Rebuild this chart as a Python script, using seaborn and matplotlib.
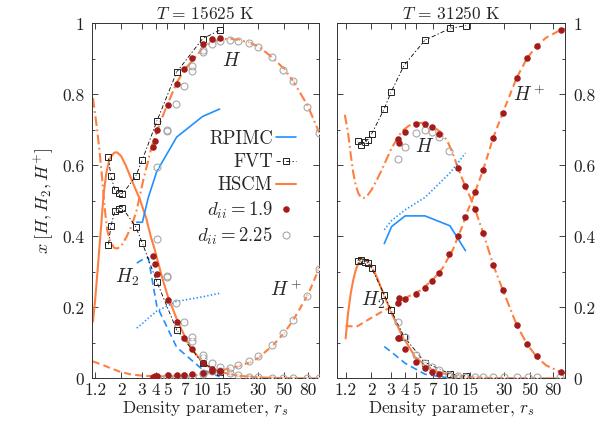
import numpy as np
import matplotlib
matplotlib.use('Agg')
import matplotlib.pyplot as plt
import seaborn as sns
from matplotlib.lines import Line2D
from matplotlib.ticker import FixedLocator, NullLocator, MultipleLocator

sns.set_style('ticks')
plt.rcParams['font.family'] = ['cmr10', 'DejaVu Serif']
plt.rcParams['mathtext.fontset'] = 'cm'
plt.rcParams['axes.unicode_minus'] = False
plt.rcParams['axes.formatter.use_mathtext'] = True
plt.rcParams['lines.scale_dashes'] = False

BLUE = '#2090ff'
ORANGE = '#ff7f40'
RED = '#a31c1c'
GRAY = '#a8a8a8'

nan = np.nan

# ---------------- T = 15625 K ----------------
fvt_l_x = [1.56, 1.64, 1.78, 1.92, 2.06, 2.67, 3.05, 4.05, 6.0, 10.0, 14.0]
fvt_l_H = [0.623, 0.569, 0.530, 0.522, 0.520, 0.569, 0.616, 0.724, 0.863, 0.957, 0.981]
fvt_l_H2 = [0.377, 0.430, 0.473, 0.478, 0.480, 0.428, 0.381, 0.273, 0.137, 0.043, 0.019]

hscm_l_x2 = [1.15, 1.2, 1.25, 1.3, 1.36, 1.42, 1.5, 1.6, 1.75, 1.85, 2.0, 2.2, 2.5,
             2.9, 3.3, 3.6, 3.9, 4.5, 5.0, 6.0, 7.0, 8.0, 10, 12, 14, 20, 30, 50, 100]
hscm_l_H2 = [0.16, 0.22, 0.29, 0.36, 0.44, 0.52, 0.58, 0.62, 0.636, 0.637, 0.627, 0.60, 0.555,
             0.505, 0.45, 0.40, 0.362, 0.285, 0.235, 0.168, 0.12, 0.085, 0.045, 0.028, 0.019,
             0.008, 0.003, 0.001, 0.0]
hscm_l_x1 = [1.15, 1.2, 1.25, 1.3, 1.37, 1.45, 1.52, 1.62, 1.75, 1.85, 2.0, 2.24, 2.5, 2.73,
             3.11, 3.4, 3.67, 4.32, 5.0, 6.0, 7.0, 8.33, 10, 11.6, 14, 17, 21, 25, 30, 40,
             50, 60, 80, 100]
hscm_l_H = [0.79, 0.745, 0.70, 0.65, 0.575, 0.48, 0.42, 0.385, 0.368, 0.366, 0.372, 0.40,
            0.435, 0.475, 0.56, 0.61, 0.654, 0.72, 0.772, 0.833, 0.87, 0.898, 0.93, 0.946,
            0.955, 0.957, 0.953, 0.946, 0.936, 0.903, 0.872, 0.837, 0.767, 0.692]
hscm_l_xp = [1.15, 1.4, 1.6, 2.0, 2.4, 3.0, 4, 6, 8, 10, 12, 14, 17, 20, 25, 30, 40, 50,
             60, 80, 100]
hscm_l_Hp = [0.048, 0.038, 0.030, 0.018, 0.012, 0.008, 0.006, 0.006, 0.008, 0.011, 0.016,
             0.022, 0.028, 0.034, 0.045, 0.058, 0.093, 0.128, 0.165, 0.236, 0.311]

rp_l_x = [2.73, 3.05, 3.43, 4.05, 6.0, 10.0, 14.0]
rp_l_H = [0.44, 0.44, 0.51, 0.583, 0.68, 0.738, 0.759]
rp_l_H2 = [0.325, 0.335, 0.34, 0.205, 0.088, 0.025, 0.005]
rp_l_Hp = [0.142, 0.155, 0.17, 0.19, 0.217, 0.23, 0.24]

red_l_x = [3.78, 3.92, 4.05, 5.1, 6.08, 6.98, 8.07, 10.1, 12.0, 14.1]
red_l_H = [0.651, 0.668, 0.699, 0.771, 0.83, 0.872, 0.903, 0.941, 0.957, 0.96]
red_l_H2 = [0.344, 0.323, 0.294, 0.221, 0.158, 0.115, 0.082, 0.045, 0.028, 0.02]
red_l_Hp = [0.005, 0.006, 0.008, 0.009, 0.01, 0.011, 0.012, 0.016, 0.02, 0.02]

gray_l_x = [4.05, 4.99, 5.0, 5.97, 7.0, 8.07, 8.1, 10.1, 10.15, 12.0, 14.1, 17.2, 20.2,
            24.9, 30, 39.6, 49.1, 59.8, 78.9, 99.8]
gray_l_H = [0.597, 0.696, 0.701, 0.774, 0.825, 0.867, 0.881, 0.919, 0.926, 0.943, 0.95,
            0.953, 0.952, 0.944, 0.933, 0.905, 0.87, 0.837, 0.765, 0.692]
gray_l_H2 = [0.393, 0.289, 0.285, 0.212, 0.16, 0.118, 0.107, 0.066, 0.058, 0.043, 0.033,
             0.016, 0.01, 0.005, 0.003, 0.002, 0.002, 0.002, 0.002, 0.002]
gray_l_Hp = [0.003, 0.004, 0.004, 0.005, 0.006, 0.007, 0.008, 0.014, 0.015, 0.02, 0.022,
             0.029, 0.038, 0.05, 0.064, 0.094, 0.127, 0.165, 0.233, 0.308]

# ---------------- T = 31250 K ----------------
fvt_r_x = [1.52, 1.63, 1.77, 1.87, 2.02, 2.61, 2.99, 3.9, 5.97, 9.93, 13.7]
fvt_r_H = [0.668, 0.659, 0.665, 0.673, 0.689, 0.760, 0.806, 0.882, 0.953, 0.986, 0.994]
fvt_r_H2 = [0.332, 0.335, 0.329, 0.325, 0.311, 0.236, 0.193, 0.118, 0.045, 0.013, 0.007]

hscm_r_x1 = [1.17, 1.25, 1.32, 1.39, 1.46, 1.54, 1.62, 1.71, 1.85, 2.02, 2.25, 2.48, 3.03,
             3.72, 4.3, 4.88, 5.97, 7.31, 8.5, 9.6, 10.6, 11.7, 13.0, 13.9, 15, 16.5, 19.5,
             23.9, 29, 38.5, 47.7, 57.8, 70, 93, 103]
hscm_r_H = [0.743, 0.692, 0.63, 0.579, 0.545, 0.522, 0.51, 0.508, 0.515, 0.532, 0.56, 0.588,
            0.649, 0.696, 0.712, 0.72, 0.72, 0.706, 0.69, 0.663, 0.63, 0.593, 0.555, 0.532,
            0.51, 0.477, 0.41, 0.32, 0.25, 0.151, 0.096, 0.061, 0.037, 0.019, 0.015]
hscm_r_x2 = [1.19, 1.25, 1.32, 1.39, 1.46, 1.54, 1.62, 1.71, 1.85, 2.02, 2.25, 2.48, 3.03,
             3.72, 4.88, 5.97, 7.7, 10.4, 15, 25, 103]
hscm_r_H2 = [0.113, 0.184, 0.24, 0.278, 0.305, 0.325, 0.334, 0.337, 0.33, 0.315, 0.285, 0.25,
             0.184, 0.123, 0.061, 0.038, 0.019, 0.008, 0.003, 0.001, 0.0]
hscm_r_xp = [1.19, 1.49, 1.87, 2.48, 3.3, 4.26, 5.58, 7.31, 8.5, 9.6, 10.6, 11.7, 13.0, 13.5,
             15, 16.5, 19.5, 23.9, 29, 38.5, 47.7, 57.8, 70, 93, 103]
hscm_r_Hp = [0.148, 0.146, 0.165, 0.188, 0.207, 0.231, 0.25, 0.285, 0.31, 0.34, 0.365, 0.40,
             0.435, 0.456, 0.49, 0.524, 0.588, 0.678, 0.748, 0.847, 0.903, 0.936, 0.96,
             0.981, 0.985]

rp_r_x = [2.61, 3.03, 3.99, 5.97, 9.93, 13.6]
rp_r_H = [0.38, 0.428, 0.458, 0.458, 0.43, 0.36]
rp_r_H2 = [0.09, 0.074, 0.043, 0.012, 0.001, 0.0]
rp_r_Hp = [0.419, 0.445, 0.475, 0.51, 0.579, 0.635]

red_r_x = [3.42, 3.5, 3.98, 4.94, 5.97, 6.93, 7.94, 9.73, 11.7, 13.6, 16.5, 19.5, 23.9, 29,
           38.5, 47.7, 57.8, 94.2]
red_r_H = [0.675, 0.662, 0.694, 0.718, 0.718, 0.709, 0.688, nan, 0.592, 0.543, 0.477, 0.41,
           0.32, 0.25, 0.151, 0.096, 0.063, 0.019]
red_r_H2 = [0.113, 0.113, 0.083, 0.047, 0.029, 0.019, 0.013, nan, nan, nan, nan, nan, nan,
            nan, nan, nan, nan, nan]
red_r_Hp = [0.212, 0.226, 0.224, 0.237, 0.254, 0.276, 0.298, 0.351, 0.402, 0.454, 0.524,
            0.588, 0.678, 0.748, 0.847, 0.903, 0.936, 0.981]

gray_r_x = [3.47, 3.98, 4.94, 5.97, 6.93, 7.94, 9.8, 11.7, 13.6, 16.5, 19.5, 23.9, 29.6,
            38.7, 48.6, 57.8, 93]
gray_r_H = [0.619, 0.652, 0.692, 0.701, 0.694, 0.68, 0.64, nan, nan, nan, nan, nan, nan,
            nan, nan, nan, nan]
gray_r_H2 = [0.16, 0.118, 0.066, 0.043, 0.033, 0.024, 0.01, 0.006, 0.004, 0.003, 0.003,
             0.003, 0.003, 0.003, 0.003, 0.003, 0.003]

xtick_vals = [1.2, 2, 3, 4, 5, 7, 10, 15, 30, 50, 80]
xtick_labels = ['1.2', '2', '3', '4', '5', '7', '10', '15', '30', '50', '80']
ytick_vals = [0, 0.2, 0.4, 0.6, 0.8, 1.0]
ytick_labels = ['0', '0.2', '0.4', '0.6', '0.8', '1']

DASH = (0, (5, 3))
DASHDOT = (0, (7, 2.5, 1.3, 2.5))
DOT = (0, (1, 1.6))
FVT_LS = (0, (3, 1.5, 1, 1.5))


def draw_line(ax, x, y, color, ls, lw, **kw):
    sns.lineplot(x=np.asarray(x, float), y=np.asarray(y, float), ax=ax, color=color,
                 linestyle=ls, linewidth=lw, sort=False, estimator=None, legend=False, **kw)


def draw_fvt(ax, x, y):
    draw_line(ax, x, y, 'k', FVT_LS, 0.6, marker='s', markersize=4.6, markerfacecolor='none',
              markeredgecolor='#222222', markeredgewidth=0.7, zorder=4)
    draw_line(ax, x, y, 'k', 'none', 0, marker='.', markersize=1.4, zorder=4)


def draw_gray(ax, x, y):
    draw_line(ax, x, y, GRAY, 'none', 0, marker='o', markersize=5.0, markerfacecolor='none',
              markeredgecolor=GRAY, markeredgewidth=0.8, zorder=5)
    draw_line(ax, x, y, GRAY, 'none', 0, marker='.', markersize=2, zorder=5)


def draw_red(ax, x, y):
    draw_line(ax, x, y, RED, 'none', 0, marker='o', markersize=4.7, markeredgewidth=0, zorder=6)


fig = plt.figure(figsize=(6.15, 4.30), dpi=100)
ax1 = fig.add_axes([0.1504, 0.1198, 0.3683, 0.8256])
ax2 = fig.add_axes([0.5485, 0.1198, 0.3707, 0.8256])

# left panel
draw_line(ax1, hscm_l_x2, hscm_l_H2, ORANGE, '-', 1.5)
draw_line(ax1, hscm_l_x1, hscm_l_H, ORANGE, DASHDOT, 1.5)
draw_line(ax1, hscm_l_xp, hscm_l_Hp, ORANGE, DASH, 1.5)
draw_line(ax1, rp_l_x, rp_l_H, BLUE, '-', 1.2)
draw_line(ax1, rp_l_x, rp_l_H2, BLUE, DASH, 1.2)
draw_line(ax1, rp_l_x, rp_l_Hp, BLUE, DOT, 1.2)
draw_fvt(ax1, fvt_l_x, fvt_l_H)
draw_fvt(ax1, fvt_l_x, fvt_l_H2)
for ys in (gray_l_H, gray_l_H2, gray_l_Hp):
    draw_gray(ax1, gray_l_x, ys)
for ys in (red_l_H, red_l_H2, red_l_Hp):
    draw_red(ax1, red_l_x, ys)

# right panel
draw_line(ax2, hscm_r_x2, hscm_r_H2, ORANGE, '-', 1.5)
draw_line(ax2, hscm_r_x1, hscm_r_H, ORANGE, DASHDOT, 1.5)
draw_line(ax2, hscm_r_xp, hscm_r_Hp, ORANGE, DASH, 1.5)
draw_line(ax2, rp_r_x, rp_r_H, BLUE, '-', 1.2)
draw_line(ax2, rp_r_x, rp_r_H2, BLUE, DASH, 1.2)
draw_line(ax2, rp_r_x, rp_r_Hp, BLUE, DOT, 1.2)
draw_fvt(ax2, fvt_r_x, fvt_r_H)
draw_fvt(ax2, fvt_r_x, fvt_r_H2)
for ys in (gray_r_H, gray_r_H2):
    draw_gray(ax2, gray_r_x, ys)
for ys in (red_r_H, red_r_H2, red_r_Hp):
    draw_red(ax2, red_r_x, ys)

for ax, xl, title in ((ax1, (1.14, 99.5), r'$T\,=\,15625$ K'),
                      (ax2, (1.005, 103.5), r'$T\,=\,31250$ K')):
    ax.set_xscale('log')
    ax.set_xlim(*xl)
    ax.set_ylim(0, 1)
    ax.xaxis.set_major_locator(FixedLocator(xtick_vals))
    ax.set_xticklabels(xtick_labels)
    ax.xaxis.set_minor_locator(NullLocator())
    ax.set_yticks(ytick_vals)
    ax.set_yticklabels(ytick_labels)
    ax.yaxis.set_minor_locator(MultipleLocator(0.1))
    ax.tick_params(which='both', direction='in', top=True, right=True, labelsize=12.5,
                   colors='#222222', width=0.6)
    ax.tick_params(which='major', length=4)
    ax.tick_params(axis='x', which='major', pad=3)
    ax.tick_params(axis='y', which='major', pad=6)
    ax.tick_params(which='minor', length=2.5)
    for sp in ax.spines.values():
        sp.set_linewidth(0.7)
        sp.set_color('#333333')
    ax.set_title(title, fontsize=12.5, pad=3)
    ax.set_xlabel(r'Density parameter, $r_s$', fontsize=12.5, labelpad=1)
    ax.set_ylabel('')

ax2.tick_params(labelleft=False, labelright=True)
ax1.set_ylabel(r'$x\;[H, H_2, H^{+}]$', fontsize=13, labelpad=4)

ax1.text(17.7, 0.894, r'$H$', fontsize=14, ha='center', va='center')
ax1.text(2.24, 0.285, r'$H_2$', fontsize=14, ha='center', va='center')
ax1.text(52, 0.25, r'$H^+$', fontsize=14, ha='center', va='center')
ax2.text(5.97, 0.652, r'$H$', fontsize=14, ha='center', va='center')
ax2.text(2.09, 0.221, r'$H_2$', fontsize=14, ha='center', va='center')
ax2.text(49.4, 0.80, r'$H^+$', fontsize=14, ha='center', va='center')

handles = [
    Line2D([], [], color=BLUE, lw=1.2),
    Line2D([], [], color='k', lw=0.6, ls=FVT_LS, marker='s', mfc='none', mec='#222222',
           ms=4.6, mew=0.7),
    Line2D([], [], color=ORANGE, lw=1.5),
    Line2D([], [], color=RED, ls='none', marker='o', ms=4.7, mew=0),
    Line2D([], [], color=GRAY, ls='none', marker='o', mfc='none', ms=5.0, mew=0.8),
]
labels = ['RPIMC', 'FVT', 'HSCM', r'$d_{ii} = 1.9$', r'$d_{ii} = 2.25$']
ax1.legend(handles, labels, loc='upper right', bbox_to_anchor=(0.90, 0.70), frameon=False,
           markerfirst=False, fontsize=13.5, handlelength=1.1, handletextpad=0.15,
           labelspacing=0.28, borderaxespad=0, borderpad=0, numpoints=1)

fig.savefig('out.png', dpi=100)
